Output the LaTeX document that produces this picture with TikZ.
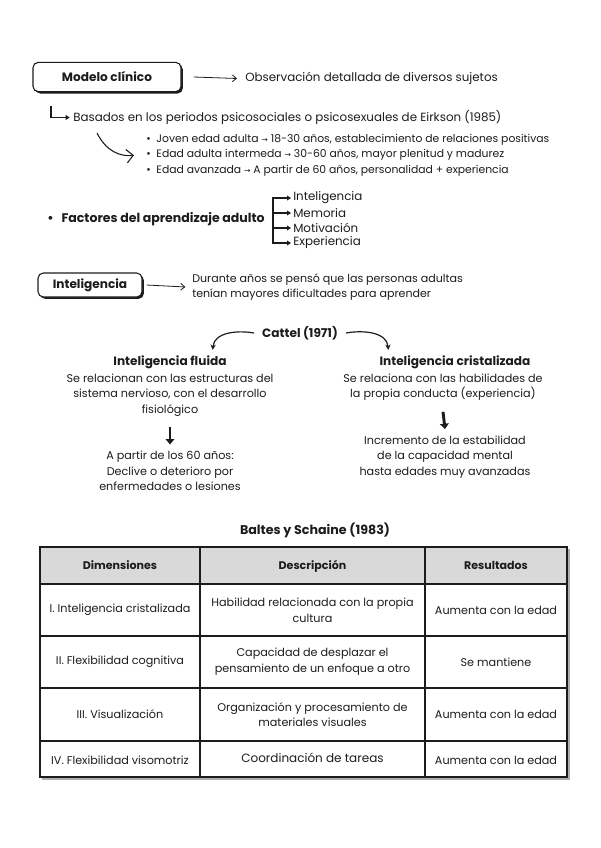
\documentclass[tikz,border=0pt]{standalone}
\usepackage{fontspec}
\setmainfont{Poppins}
\newfontfamily\symfont{DejaVu Sans}
\usetikzlibrary{arrows.meta,shadows,positioning}
\definecolor{ink}{HTML}{1C1C1C}
\definecolor{headgray}{HTML}{D9D9D9}
\tikzset{
  card/.style={draw=ink, line width=0.8pt, rounded corners=4pt, fill=white, text=ink,
    font=\bfseries\fontsize{9.1}{10}\selectfont,
    drop shadow={shadow xshift=1.4pt, shadow yshift=-1.4pt, opacity=1, fill=ink}},
  txt/.style={text=ink, font=\fontsize{8.9}{11.25}\selectfont, inner sep=0pt},
  mid/.style={text=ink, font=\fontsize{8.4}{11.5}\selectfont, inner sep=0pt},
  small/.style={text=ink, font=\fontsize{8.1}{11.6}\selectfont, inner sep=0pt},
  head/.style={text=ink, font=\bfseries\fontsize{9.1}{10}\selectfont, inner sep=0pt},
  cell/.style={text=ink, font=\fontsize{8.4}{11.8}\selectfont, align=center, inner sep=0pt},
  cellhead/.style={text=ink, font=\bfseries\fontsize{8.3}{9}\selectfont, inner sep=0pt, anchor=base},
  thin/.style={draw=ink, line width=0.6pt, -{Straight Barb[length=3pt,width=5pt]}},
  branch/.style={draw=ink, line width=1.1pt, -{Triangle[length=3pt,width=3.6pt]}},
  curvy/.style={draw=ink, line width=0.9pt, -{Stealth[length=4pt,width=4pt]}},
  bold arrow/.style={draw=ink, line width=2.2pt, -{Triangle[length=4pt,width=6.5pt]}},
  grid/.style={draw=ink, line width=1.3pt},
}
\newcommand{\sarrow}{{\symfont\fontsize{5.8}{6}\selectfont →}}

\begin{document}
\begin{tikzpicture}[x=0.75pt,y=-0.75pt]
  \useasboundingbox (0,0) rectangle (600,848);

  % Modelo clinico
  \node[card, minimum width=111pt, minimum height=22pt] (modelo) at (107,77) {Modelo clínico};
  \node[txt, anchor=west] (obs) at (245,78.5) {Observación detallada de diversos sujetos};
  \draw[thin] ([xshift=9pt]modelo.east) -- ([xshift=-6pt]obs.west);
  \node[txt, anchor=west] (basados) at (73,117.5) {Basados en los periodos psicosociales o psicosexuales de Eirkson (1985)};
  \draw[branch, line width=0.9pt] (51,106) |- ([xshift=-2.5pt]basados.west);

  % etapas
  \node[small, anchor=north west, align=left] (etapas) at (146,134) {%
    \textbullet\ \ Joven edad adulta \sarrow\ 18-30 años, establecimiento de relaciones positivas\\
    \textbullet\ \ Edad adulta intermeda \sarrow\ 30-60 años, mayor plenitud y madurez\\
    \textbullet\ \ Edad avanzada \sarrow\ A partir de 60 años, personalidad + experiencia};
  \draw[draw=ink, line width=0.8pt, -{Straight Barb[length=5pt,width=10pt]}]
    (97,133) .. controls (106,151) and (120,157) .. ([xshift=-9pt]etapas.west);

  % factores
  \node[head, anchor=west, font=\bfseries\fontsize{9.4}{10}\selectfont] (factores) at (47,219) {\textbullet\ \ \ Factores del aprendizaje adulto};
  \coordinate (fork) at (273,197);
  \foreach \name/\yy in {Inteligencia/198, Memoria/213, Motivación/228, Experiencia/243} {
    \node[txt, anchor=west] (f\yy) at (293,\yy) {\name};
    \draw[branch] (273,\yy) -- ([xshift=-1.5pt]f\yy.west);
  }
  \draw[draw=ink, line width=1.1pt] (fork) -- (273,243.6);

  % inteligencia
  \node[card, minimum width=78pt, minimum height=18pt] (intel) at (90,285) {Inteligencia};
  \node[mid, anchor=west, align=left, font=\fontsize{8.3}{11.5}\selectfont] (durante) at (192,287) {Durante años se pensó que las personas adultas\\tenían mayores dificultades para aprender};
  \draw[thin] ([xshift=3pt]intel.east) -- ([xshift=-5pt]durante.west);

  % Cattel
  \node[head] (cattel) at (300,333) {Cattel (1971)};
  \node[head] (fluida) at (170,362) {Inteligencia fluida};
  \node[head] (crist) at (455,362) {Inteligencia cristalizada};
  \draw[curvy] ([xshift=-6pt]cattel.west) to[out=170,in=85] ([xshift=32pt,yshift=4pt]fluida.north);
  \draw[curvy] ([xshift=6pt]cattel.east) to[out=10,in=95] ([xshift=-50pt,yshift=4pt]crist.north);

  \node[mid, align=center] (fdesc) at (170,395) {Se relacionan con las estructuras del\\sistema nervioso, con el desarrollo\\fisiológico};
  \node[mid, align=center] (fres) at (170,471) {A partir de los 60 años:\\Declive o deterioro por\\enfermedades o lesiones};
  \draw[bold arrow] ([yshift=-8pt]fdesc.south) -- ([yshift=5pt]fres.north);

  \node[mid, align=center] (cdesc) at (443,387.5) {Se relaciona con las habilidades de\\la propia conducta (experiencia)};
  \node[mid, align=center] (cres) at (445,457) {Incremento de la estabilidad\\de la capacidad mental\\hasta edades muy avanzadas};
  \draw[bold arrow] ([yshift=-8pt]cdesc.south) -- ([yshift=5pt]cres.north);

  % Baltes y Schaine
  \node[head, font=\bfseries\fontsize{9.5}{10}\selectfont] (baltes) at (315,530) {Baltes y Schaine (1983)};
  \fill[headgray] (40,547) rectangle (567,584);
  \draw[ink!35, line width=1.5pt] (569,549) -- (569,779) -- (42,779);
  \draw[grid] (40,547) rectangle (567,777);
  \foreach \yy in {584,636,688,741} \draw[grid] (40,\yy) -- (567,\yy);
  \foreach \xx in {200,425} \draw[grid] (\xx,547) -- (\xx,777);

  \node[cellhead] (h1) at (120,569.5) {Dimensiones};
  \node[cellhead] (h2) at (312.5,569.5) {Descripción};
  \node[cellhead] (h3) at (496,569.5) {Resultados};

  \node[cell] (d1) at (120,610) {I. Inteligencia cristalizada};
  \node[cell] (e1) at (312.5,610) {Habilidad relacionada con la propia\\cultura};
  \node[cell] (r1) at (496,610) {Aumenta con la edad};

  \node[cell] (d2) at (120,662) {II. Flexibilidad cognitiva};
  \node[cell] (e2) at (312.5,662) {Capacidad de desplazar el\\pensamiento de un enfoque a otro};
  \node[cell] (r2) at (496,662) {Se mantiene};

  \node[cell] (d3) at (120,714.5) {III. Visualización};
  \node[cell] (e3) at (312.5,714.5) {Organización y procesamiento de\\materiales visuales};
  \node[cell] (r3) at (496,714.5) {Aumenta con la edad};

  \node[cell] (d4) at (120,760) {IV. Flexibilidad visomotriz};
  \node[cell, font=\fontsize{9}{10}\selectfont] (e4) at (312.5,758) {Coordinación de tareas};
  \node[cell] (r4) at (496,760) {Aumenta con la edad};
\end{tikzpicture}
\end{document}
